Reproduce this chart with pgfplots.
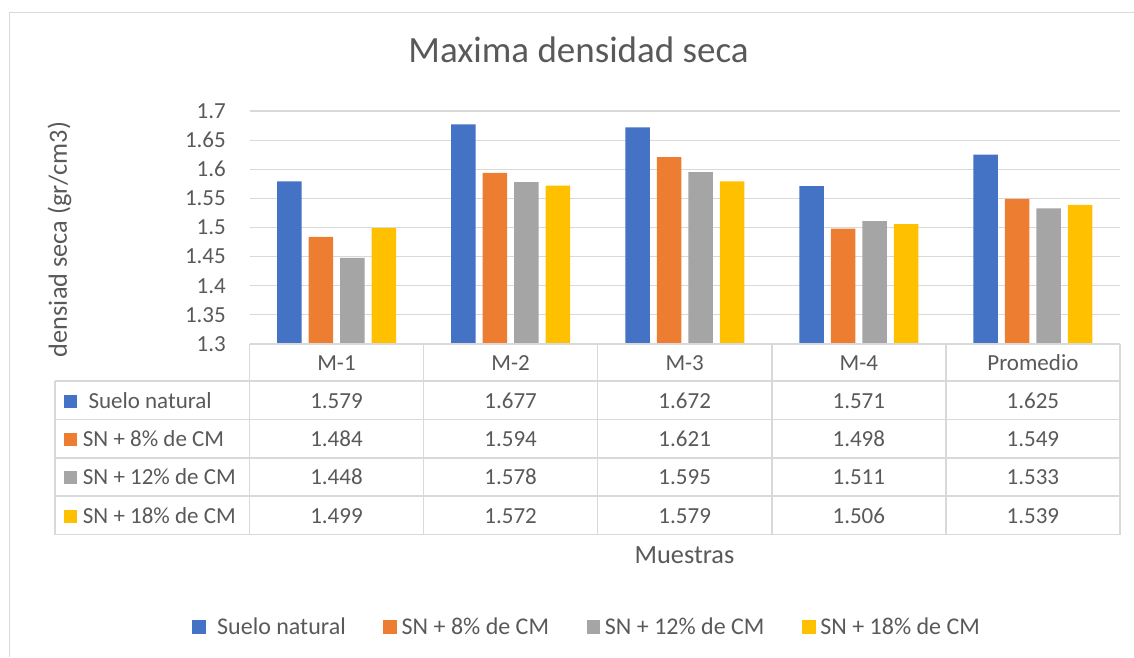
\documentclass[border=0pt]{standalone}
\usepackage{fontspec}
\setmainfont{Carlito}
\usepackage{pgfplots}
\usepackage{pgfplotstable}
\pgfplotsset{compat=1.18}
\definecolor{cblue}{HTML}{4472C4}
\definecolor{corange}{HTML}{ED7D31}
\definecolor{cgray}{HTML}{A5A5A5}
\definecolor{cyellow}{HTML}{FFC000}
\definecolor{ctext}{HTML}{595959}
\definecolor{cline}{HTML}{D9D9D9}
\newcommand\ft{\fontsize{23}{28}\selectfont}
\newcommand\fl{\fontsize{24}{29}\selectfont}
\newcommand\fa{\fontsize{26.3}{31}\selectfont}

\pgfplotstableread{
cat      sn    p8    p12   p18
M-1      1.579 1.484 1.448 1.499
M-2      1.677 1.594 1.578 1.572
M-3      1.672 1.621 1.595 1.579
M-4      1.571 1.498 1.511 1.506
Promedio 1.625 1.549 1.533 1.539
}\datos

\pgfplotsset{sq/.style={fill=#1, draw=none,
  legend image code/.code={\fill[#1] (0pt,-6.8pt) rectangle (13.6pt,6.8pt);}}}

\begin{document}
\begin{tikzpicture}[x=1pt,y=1pt]
\path[use as bounding box] (0,0) rectangle (1134,-657);
\draw[cline, line width=1.5pt] (9.5,-657) -- (9.5,-12.5) -- (1134,-12.5);

\begin{axis}[
    at={(249.5pt,-344pt)}, anchor=south west,
    scale only axis, width=870.5pt, height=233pt,
    xmin=-0.5, xmax=4.5, ymin=1.3, ymax=1.7,
    ybar=7pt, bar width=24.5pt,
    ytick={1.3,1.35,1.4,1.45,1.5,1.55,1.6,1.65,1.7},
    yticklabels={1.3,1.35,1.4,1.45,1.5,1.55,1.6,1.65,1.7},
    xtick=\empty,
    ymajorgrids, grid style={draw=cline, line width=1.2pt},
    axis line style={draw=none}, major tick length=0pt,
    tick label style={font=\ft, text=ctext},
    yticklabel style={anchor=east, inner sep=0pt, xshift=-23.5pt},
    title={Maxima densidad seca},
    title style={font=\fontsize{37}{44}\selectfont, text=ctext,
      at={(axis description cs:0.378,1.1845)}, anchor=base, inner sep=0pt},
    ylabel={densiad seca (gr/cm3)},
    every axis y label/.style={font=\fa, text=ctext, rotate=90, anchor=center,
      at={(axis description cs:-0.2183,0.4485)}},
    xlabel={Muestras},
    every axis x label/.style={font=\fa, text=ctext, anchor=center, inner sep=0pt,
      at={(axis description cs:0.4997,-0.9056)}},
    legend columns=4, legend cell align=left,
    legend style={at={(axis description cs:-0.0657,-1.2146)}, anchor=west,
      draw=none, fill=none, inner sep=0pt, outer sep=0pt,
      font=\fl, text=ctext, nodes={inner sep=0pt},
      /tikz/every odd column/.append style={column sep=4.7pt},
      /tikz/every even column/.append style={column sep=37.6pt}},
]
\addplot[sq=cblue] table[x expr=\coordindex, y=sn]{\datos};
\addlegendentry{\hspace*{6.6pt}Suelo natural}
\addplot[sq=corange] table[x expr=\coordindex, y=p8]{\datos};
\addlegendentry{SN + 8\% de CM}
\addplot[sq=cgray] table[x expr=\coordindex, y=p12]{\datos};
\addlegendentry{SN + 12\% de CM}
\addplot[sq=cyellow] table[x expr=\coordindex, y=p18]{\datos};
\addlegendentry{SN + 18\% de CM}
\end{axis}

% tabla de datos
\begin{scope}[draw=cline, line width=1.5pt]
\draw (249.5,-344) -- (1120,-344);
\foreach \y in {381,419.5,458,496,534.5} \draw (55,-\y) -- (1120,-\y);
\draw (55,-381) -- (55,-534.5);
\foreach \x in {249.5,423.6,597.7,771.8,945.9,1120} \draw (\x,-344) -- (\x,-534.5);
\end{scope}

\begin{scope}[every node/.style={font=\ft, text=ctext, inner sep=0pt}]
\foreach \c in {0,...,4} {
  \pgfplotstablegetelem{\c}{cat}\of\datos
  \node[anchor=base] at ({336.5+174.1*\c},-370) {\pgfplotsretval};
  \foreach \col/\b in {sn/408,p8/446.5,p12/484.5,p18/523} {
    \pgfplotstablegetelem{\c}{\col}\of\datos
    \node[anchor=base] at ({336.5+174.1*\c},-\b) {\pgfplotsretval};
  }
}
\fill[cblue]   (63.5,-394.5) rectangle (76.5,-407.5);
\fill[corange] (63.5,-433)   rectangle (76.5,-446);
\fill[cgray]   (63.5,-471)   rectangle (76.5,-484);
\fill[cyellow] (63.5,-509.5) rectangle (76.5,-522.5);
\node[anchor=base west] at (88.3,-408) {Suelo natural};
\node[anchor=base west] at (82.7,-446.5) {SN + 8\% de CM};
\node[anchor=base west] at (82.7,-484.5) {SN + 12\% de CM};
\node[anchor=base west] at (82.7,-523) {SN + 18\% de CM};
\end{scope}
\end{tikzpicture}
\end{document}
